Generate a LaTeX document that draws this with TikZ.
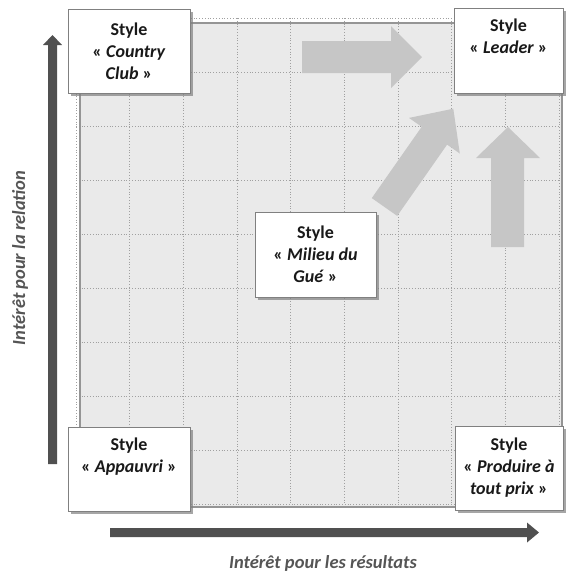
\documentclass[tikz,border=0pt]{standalone}
\usepackage{fontspec}
\setmainfont{Carlito}
\usetikzlibrary{shadows}
\definecolor{gridfill}{HTML}{EAEAEA}
\definecolor{gridborder}{HTML}{959595}
\definecolor{griddot}{HTML}{A0A0A0}
\definecolor{lightarrow}{HTML}{C6C6C6}
\definecolor{darkarrow}{HTML}{505050}
\definecolor{boxborder}{HTML}{808080}
\definecolor{labelgray}{HTML}{555555}
\begin{document}
\begin{tikzpicture}[x=1pt,y=-1pt,
  stylebox/.style={draw=boxborder, fill=white, line width=0.8pt, inner sep=0pt,
    align=center, text=black!90,
    font=\bfseries\fontsize{18}{22}\selectfont,
    drop shadow={shadow xshift=2.5pt, shadow yshift=-2.5pt, fill=black!50, opacity=0.7}},
  axislabel/.style={text=labelgray, inner sep=0pt, font=\bfseries\itshape\fontsize{18.5}{22}\selectfont},
  bigarrow/.style={fill=lightarrow},
  axisarrow/.style={fill=darkarrow}
]
\useasboundingbox (0,0) rectangle (568,574);
% grid background
\fill[gridfill] (80,23) rectangle (562,507);
\foreach \i in {0,...,9} {
  \draw[griddot, dotted, line width=0.8pt] ({76+\i*53.67},18) -- ({76+\i*53.67},504);
  \draw[griddot, dotted, line width=0.8pt] (76,{18+\i*54}) -- (559,{18+\i*54});
}
\draw[gridborder, line width=1.2pt] (80,23) rectangle (562,507);

% light direction arrows
\fill[bigarrow] (302,41) -- (391,41) -- (391,26) -- (422,57) -- (391,88) -- (391,73) -- (302,73) -- cycle;
\fill[bigarrow] (371.8,198.1) -- (421.7,126.8) -- (409.0,117.9) -- (453.3,108.7) -- (459.8,153.5) -- (447.1,144.6) -- (397.2,215.9) -- cycle;
\fill[bigarrow] (491,247) -- (491,158) -- (476,158) -- (508,127) -- (540,158) -- (524,158) -- (524,247) -- cycle;

% axes
\fill[axisarrow] (48,464) -- (48,45) -- (43,45) -- (52.5,35) -- (62,45) -- (57,45) -- (57,464) -- cycle;
\fill[axisarrow] (110,528) -- (527,528) -- (527,522.5) -- (539,532.5) -- (527,542.5) -- (527,537) -- (110,537) -- cycle;

\node[axislabel, rotate=90] (ylab) at (20,258) {Intérêt pour la relation};
\node[axislabel] (xlab) at (323,563) {Intérêt pour les résultats};

% style boxes
\node[stylebox, minimum width=122pt, minimum height=84pt] (cc) at (129,51)
  {Style\\« \textit{Country}\\\textit{Club} »};
\node[stylebox, minimum width=109pt, minimum height=85pt] (leader) at (508.5,50.5)
  {Style\\« \textit{Leader} »\\\strut};
\node[stylebox, minimum width=121pt, minimum height=85pt] (milieu) at (315.5,254.5)
  {Style\\« \textit{Milieu du}\\\textit{Gué} »};
\node[stylebox, minimum width=122pt, minimum height=84pt] (appauvri) at (129,469)
  {Style\\« \textit{Appauvri} »\\\strut};
\node[stylebox, minimum width=108pt, minimum height=84pt] (produire) at (509,468)
  {Style\\« \textit{Produire à}\\\textit{tout prix} »};
\end{tikzpicture}
\end{document}
